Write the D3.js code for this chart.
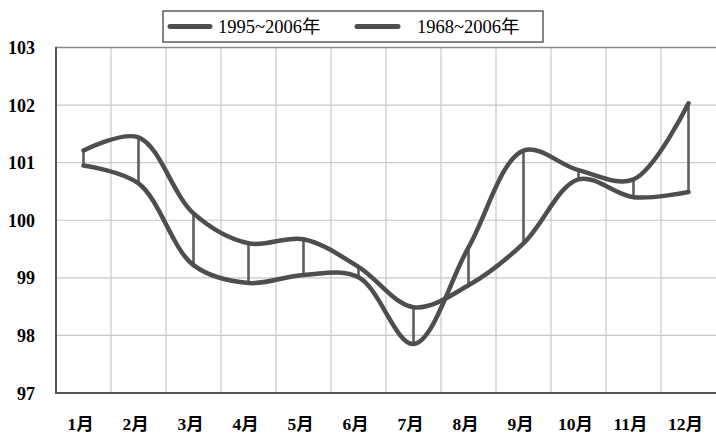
<!DOCTYPE html>
<html>
<head>
<meta charset="utf-8">
<script src="https://cdn.jsdelivr.net/npm/d3@7"></script>
<style>
  html, body { margin: 0; padding: 0; background: #ffffff; }
  svg { display: block; }
</style>
</head>
<body>
<svg id="chart" width="716" height="433"></svg>
<script>
const months = ["1月","2月","3月","4月","5月","6月","7月","8月","9月","10月","11月","12月"];
const seriesNames = ["1995~2006年", "1968~2006年"];
const series1995 = [100.95, 100.64, 99.22, 98.91, 99.05, 99.01, 97.85, 99.53, 101.21, 100.87, 100.71, 102.03];
const series1968 = [101.21, 101.44, 100.12, 99.60, 99.67, 99.19, 98.49, 98.87, 99.60, 100.71, 100.40, 100.49];
const yTicks = [97, 98, 99, 100, 101, 102, 103];

(function () {
const svg = d3.select("#chart");
const pL = 56, pR = 716, pT = 47.5, pB = 393;

const x = d3.scaleBand().domain(months).range([pL, pR]).padding(0);
const y = d3.scaleLinear().domain([97, 103]).range([pB, pT]);
const cx = m => x(m) + x.bandwidth() / 2;

// horizontal gridlines
svg.append("g").selectAll("line").data(yTicks.filter(t => t !== 97 && t !== 103)).join("line")
  .attr("x1", pL).attr("x2", pR)
  .attr("y1", d => y(d)).attr("y2", d => y(d))
  .attr("stroke", "#c8c8c8").attr("stroke-width", 1.2);

// vertical gridlines at band boundaries
svg.append("g").selectAll("line").data(months.slice(1)).join("line")
  .attr("x1", d => x(d)).attr("x2", d => x(d))
  .attr("y1", pT).attr("y2", pB)
  .attr("stroke", "#c8c8c8").attr("stroke-width", 1.2);

// top border
svg.append("line").attr("x1", pL).attr("x2", pR)
  .attr("y1", y(103)).attr("y2", y(103))
  .attr("stroke", "#8a8a8a").attr("stroke-width", 1.6);

// axes lines
svg.append("line").attr("x1", pL).attr("x2", pL)
  .attr("y1", pT - 0.8).attr("y2", pB + 1)
  .attr("stroke", "#555").attr("stroke-width", 2);
svg.append("line").attr("x1", pL - 1).attr("x2", pR)
  .attr("y1", pB).attr("y2", pB)
  .attr("stroke", "#555").attr("stroke-width", 2);

// y tick labels
svg.append("g").selectAll("text").data(yTicks).join("text")
  .attr("x", 35).attr("y", d => y(d) + 6.5)
  .attr("text-anchor", "end")
  .attr("font-family", "'Liberation Serif', 'Times New Roman', serif")
  .attr("font-weight", "bold").attr("font-size", 18)
  .attr("fill", "#000")
  .text(d => d);

// x tick labels
svg.append("g").selectAll("text").data(months).join("text")
  .attr("x", d => cx(d) - 3).attr("y", 430)
  .attr("text-anchor", "middle")
  .attr("font-family", "'Liberation Serif', 'Noto Sans CJK SC', serif")
  .attr("font-weight", "bold").attr("font-size", 17.5)
  .attr("fill", "#000")
  .text(d => d);

// hi-lo vertical lines
svg.append("g").selectAll("line").data(months).join("line")
  .attr("x1", d => cx(d)).attr("x2", d => cx(d))
  .attr("y1", (d, i) => y(series1968[i])).attr("y2", (d, i) => y(series1995[i]))
  .attr("stroke", "#5e5e5e").attr("stroke-width", 2.6);

const line = d3.line()
  .x((d, i) => cx(months[i]))
  .y(d => y(d))
  .curve(d3.curveCatmullRom.alpha(0.5));

[series1968, series1995].forEach(s => {
  svg.append("path").datum(s)
    .attr("d", line)
    .attr("fill", "none")
    .attr("stroke", "#4e4e4e")
    .attr("stroke-width", 4.5)
    .attr("stroke-linejoin", "round")
    .attr("stroke-linecap", "round");
});

// legend
const lg = svg.append("g");
lg.append("rect").attr("x", 163).attr("y", 11).attr("width", 380).attr("height", 31)
  .attr("fill", "#fff").attr("stroke", "#444").attr("stroke-width", 1.3);
const legendItems = [
  { name: seriesNames[0], x1: 170, x2: 210, tx: 218 },
  { name: seriesNames[1], x1: 357, x2: 398, tx: 417 }
];
legendItems.forEach(it => {
  lg.append("line").attr("x1", it.x1).attr("x2", it.x2).attr("y1", 26.5).attr("y2", 26.5)
    .attr("stroke", "#4e4e4e").attr("stroke-width", 5).attr("stroke-linecap", "round");
  lg.append("text").attr("x", it.tx).attr("y", 33)
    .attr("font-family", "'Liberation Serif', 'Noto Sans CJK SC', serif")
    .attr("font-size", 18.5).attr("fill", "#000")
    .text(it.name);
});
})();
</script>
</body>
</html>
